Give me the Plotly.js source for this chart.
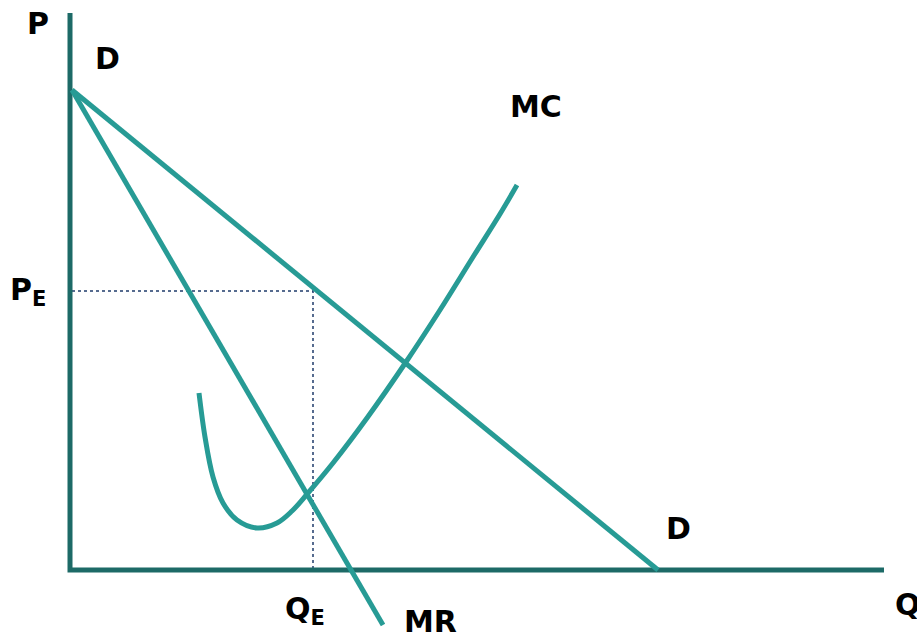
<!DOCTYPE html>
<html>
<head>
<meta charset="utf-8">
<script src="https://cdn.plot.ly/plotly-3.0.1.min.js"></script>
<style>html,body{margin:0;padding:0;background:#fff;}#chart{width:917px;height:639px;}</style>
</head>
<body>
<div id="chart"></div>
<script>
// Quantity (Q) and price (P) values, origin at axis corner
const axisQ = [0, 0, 814];
const axisP = [557, 0, 0];

const demandQ = [2, 588];
const demandP = [480, 0];

const mrQ = [2, 313];
const mrP = [480, -55];

const mcQ = [129, 135, 143, 153, 167, 187, 207, 222, 238, 263, 297, 336, 370, 403, 430, 447];
const mcP = [177, 133, 93, 67, 50, 42, 47, 59, 77, 107, 152, 208, 260, 313, 356, 385];

const eqQ = [2, 243, 243];
const eqP = [279, 279, 0];

const labels = [
  {text: 'P', q: -32, p: 547},
  {text: 'D', q: 37, p: 512},
  {text: 'MC', q: 466, p: 464},
  {text: 'P<sub>E</sub>', q: -42, p: 279},
  {text: 'Q<sub>E</sub>', q: 235, p: -40},
  {text: 'MR', q: 360, p: -51},
  {text: 'D', q: 608, p: 42},
  {text: 'Q', q: 838, p: -34}
];

const teal = '#279b95';
const axisCol = '#1d6a67';
const font = {family: 'DejaVu Sans', size: 30, color: '#000'};

const traces = [
  {x: eqQ, y: eqP, mode: 'lines', line: {color: '#1f3b6b', width: 1.5, dash: 'dot'}, hoverinfo: 'skip'},
  {x: axisQ, y: axisP, mode: 'lines', line: {color: axisCol, width: 5}, hoverinfo: 'skip'},
  {x: demandQ, y: demandP, mode: 'lines', line: {color: teal, width: 5}},
  {x: mrQ, y: mrP, mode: 'lines', line: {color: teal, width: 5}},
  {x: mcQ, y: mcP, mode: 'lines', line: {color: teal, width: 5, shape: 'spline', smoothing: 1}}
];

const layout = {
  width: 917, height: 639,
  margin: {l: 0, r: 0, t: 0, b: 0},
  paper_bgcolor: '#fff', plot_bgcolor: '#fff',
  showlegend: false,
  xaxis: {range: [-70, 847], visible: false, fixedrange: true},
  yaxis: {range: [-69, 570], visible: false, fixedrange: true},
  annotations: labels.map(l => ({
    x: l.q, y: l.p, xref: 'x', yref: 'y', text: '<b>' + l.text + '</b>',
    showarrow: false, font: font, xanchor: 'center', yanchor: 'middle'
  }))
};

Plotly.newPlot('chart', traces, layout, {staticPlot: true, displayModeBar: false});
</script>
</body>
</html>
